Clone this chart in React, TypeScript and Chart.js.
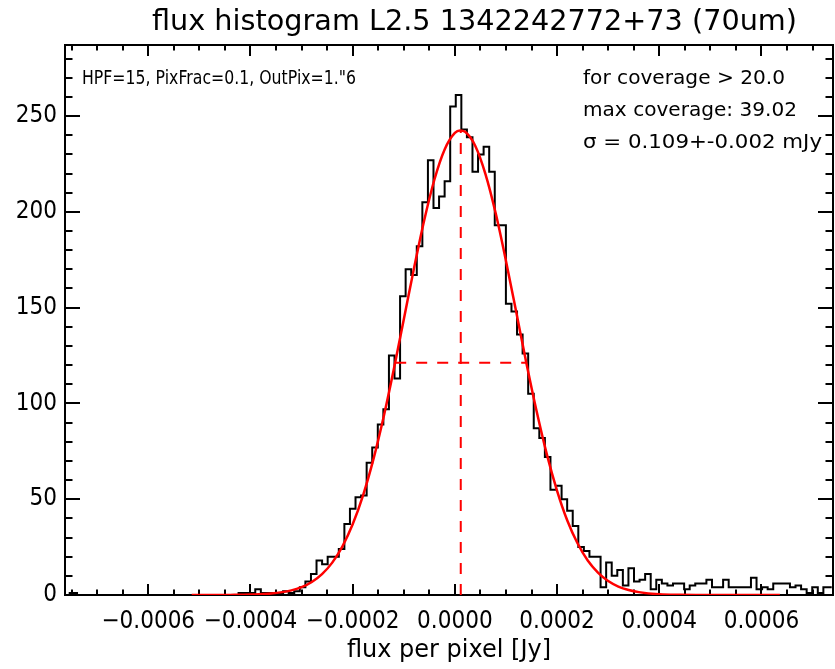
import React, { useEffect, useRef } from 'react';
import { Chart, registerables } from 'chart.js';

Chart.register(...registerables);

// ---- text ----
const TITLE = 'flux histogram L2.5 1342242772+73 (70um)';
const X_TITLE = 'flux per pixel [Jy]';
const NOTE_LEFT = 'HPF=15, PixFrac=0.1, OutPix=1."6';
const NOTES_RIGHT = ['for coverage > 20.0', 'max coverage: 39.02', 'σ = 0.109+-0.002 mJy'];

// ---- axes ----
const X_MIN = -0.000763;
const X_MAX = 0.00074;
const Y_MIN = 0;
const Y_MAX = 287.1;
const X_TICKS = [-0.0006, -0.0004, -0.0002, 0, 0.0002, 0.0004, 0.0006];
const X_TICK_LABELS = ['−0.0006', '−0.0004', '−0.0002', '0.0000', '0.0002', '0.0004', '0.0006'];
const X_MINOR_STEP = 0.00005;
const Y_TICKS = [0, 50, 100, 150, 200, 250];
const Y_TICK_LABELS = ['0', '50', '100', '150', '200', '250'];
const Y_MINOR_STEP = 10;

// ---- histogram (bin centres start + width, counts per bin) ----
const BIN_FIRST_CENTER = -0.0007558;
const BIN_WIDTH = 0.0000109;
const COUNTS = [
  1, 1, 0, 0, 0, 0, 0, 0, 0, 0,
  0, 0, 0, 0, 0, 0, 0, 0, 0, 0,
  0, 0, 0, 0, 0, 0, 0, 0, 0, 0,
  0, 1, 1, 1, 3, 1, 1, 1, 1, 2,
  1, 2, 4, 7, 11, 18, 16, 20, 20, 24,
  37, 45, 51, 52, 69, 77, 89, 97, 125, 113,
  156, 170, 167, 182, 205, 227, 202, 208, 216, 255,
  261, 243, 239, 221, 230, 234, 221, 193, 193, 152,
  148, 136, 126, 105, 87, 82, 72, 55, 57, 50,
  44, 36, 25, 23, 20, 20, 4, 17, 10, 13,
  5, 14, 7, 8, 11, 3, 8, 6, 5, 6,
  6, 3, 5, 6, 6, 8, 4, 4, 8, 4,
  4, 4, 4, 9, 3, 4, 3, 6, 6, 6,
  4, 5, 3, 1, 4, 1, 4, 4,
];

// ---- gaussian fit curve ----
const FIT_X = [
  -0.000515, -0.00048, -0.00044, -0.0004, -0.00036, -0.00032, -0.0003, -0.00028,
  -0.00026, -0.00024, -0.00022, -0.0002, -0.00018, -0.00016, -0.00014, -0.00012,
  -0.0001, -0.00008, -0.00006, -0.00004, -0.00002, 0, 0.00001, 0.00002, 0.00004,
  0.00006, 0.00008, 0.0001, 0.00012, 0.00014, 0.00016, 0.00018, 0.0002, 0.00022,
  0.00024, 0.00026, 0.00028, 0.0003, 0.00032, 0.00034, 0.00036, 0.0004, 0.00044,
  0.00048, 0.00052, 0.00056, 0.0006, 0.000636,
];
const FIT_Y = [
  0, 0.01, 0.05, 0.2, 0.73, 2.4, 4.1, 6.8,
  10.9, 16.9, 25.4, 36.9, 51.8, 70.3, 92.3, 117.2,
  143.8, 170.5, 195.6, 216.9, 232.6, 241.2, 242.5, 241.8, 234.4,
  219.6, 199.1, 174.4, 147.8, 121.0, 95.9, 73.4, 54.4, 38.9,
  27.0, 18.0, 11.7, 7.3, 4.4, 2.6, 1.5, 0.4, 0.1,
  0.02, 0, 0, 0, 0,
];

// ---- fit markers ----
const FIT_MEAN = 0.0000115;
const FIT_PEAK = 242.5;
const HALF_MAX = 121.2;
const HALF_LEFT = -0.0001168;
const HALF_RIGHT = 0.0001398;

const RED = 'rgb(255,0,0)';
const FONT = "'DejaVu Sans', sans-serif";
const COND_FONT = "'DejaVu Sans Condensed', 'DejaVu Sans', sans-serif";

function fillFitted(ctx: CanvasRenderingContext2D, text: string, x: number, y: number, width: number) {
  const w = ctx.measureText(text).width;
  ctx.save();
  ctx.translate(x, y);
  ctx.scale(width / w, 1);
  ctx.fillText(text, 0, 0);
  ctx.restore();
}

const idlFrame = {
  id: 'idlFrame',
  beforeDatasetsDraw(chart: any) {
    const { ctx, chartArea: a, scales } = chart;
    const xs = scales.x;
    const ys = scales.y;
    ctx.save();
    ctx.strokeStyle = '#000';
    ctx.lineWidth = 2;
    ctx.beginPath();
    const i0 = Math.ceil(X_MIN / X_MINOR_STEP - 1e-9);
    const i1 = Math.floor(X_MAX / X_MINOR_STEP + 1e-9);
    for (let i = i0; i <= i1; i++) {
      const px = Math.round(xs.getPixelForValue(i * X_MINOR_STEP));
      const len = i % 4 === 0 ? 11 : 5.5;
      ctx.moveTo(px, a.bottom);
      ctx.lineTo(px, a.bottom - len);
      ctx.moveTo(px, a.top);
      ctx.lineTo(px, a.top + len);
    }
    const j1 = Math.floor(Y_MAX / Y_MINOR_STEP);
    for (let j = 0; j <= j1; j++) {
      const py = Math.round(ys.getPixelForValue(j * Y_MINOR_STEP));
      const len = j % 5 === 0 ? 15 : 7.5;
      ctx.moveTo(a.left, py);
      ctx.lineTo(a.left + len, py);
      ctx.moveTo(a.right, py);
      ctx.lineTo(a.right - len, py);
    }
    ctx.stroke();
    ctx.strokeRect(a.left, a.top, a.right - a.left, a.bottom - a.top);
    ctx.restore();
  },
  afterDraw(chart: any) {
    const { ctx, chartArea: a } = chart;
    ctx.save();
    ctx.fillStyle = '#000';
    ctx.textBaseline = 'alphabetic';
    ctx.textAlign = 'left';
    ctx.font = `29px ${FONT}`;
    fillFitted(ctx, TITLE, 152, 30, 645);
    ctx.font = `20px ${FONT}`;
    fillFitted(ctx, NOTE_LEFT, a.left + 17, 84, 274);
    fillFitted(ctx, NOTES_RIGHT[0], 583, 84, 202);
    fillFitted(ctx, NOTES_RIGHT[1], 583, 116, 214);
    fillFitted(ctx, NOTES_RIGHT[2], 583, 148, 239);
    ctx.restore();
  },
};

export default function App() {
  const ref = useRef<HTMLCanvasElement | null>(null);
  useEffect(() => {
    const canvas = ref.current;
    if (!canvas) return;
    const hist = COUNTS.map((c, i) => ({ x: BIN_FIRST_CENTER + i * BIN_WIDTH, y: c }));
    const fit = FIT_X.map((x, i) => ({ x, y: FIT_Y[i] }));
    const chart = new Chart(canvas, {
      type: 'scatter',
      data: {
        datasets: [
          {
            label: 'histogram',
            data: hist,
            showLine: true,
            stepped: 'middle',
            borderColor: '#000',
            borderWidth: 2,
            pointRadius: 0,
            fill: false,
            order: 3,
          } as any,
          {
            label: 'fit',
            data: fit,
            showLine: true,
            borderColor: RED,
            borderWidth: 2.5,
            pointRadius: 0,
            cubicInterpolationMode: 'monotone',
            fill: false,
            order: 1,
          } as any,
          {
            label: 'centre',
            data: [{ x: FIT_MEAN, y: 0 }, { x: FIT_MEAN, y: FIT_PEAK }],
            showLine: true,
            borderColor: RED,
            borderWidth: 2,
            borderDash: [11, 10],
            pointRadius: 0,
            order: 2,
          } as any,
          {
            label: 'fwhm',
            data: [{ x: HALF_LEFT, y: HALF_MAX }, { x: HALF_RIGHT, y: HALF_MAX }],
            showLine: true,
            borderColor: RED,
            borderWidth: 2,
            borderDash: [11, 10],
            pointRadius: 0,
            order: 2,
          } as any,
        ],
      },
      options: {
        animation: false,
        responsive: false,
        devicePixelRatio: 1,
        layout: { padding: { top: 45, right: 2, left: 0, bottom: 0 } },
        plugins: { legend: { display: false }, tooltip: { enabled: false }, title: { display: false } },
        scales: {
          x: {
            type: 'linear',
            min: X_MIN,
            max: X_MAX,
            grid: { display: false, drawTicks: false },
            border: { display: false },
            afterBuildTicks: (s: any) => {
              s.ticks = X_TICKS.map((v) => ({ value: v }));
            },
            afterFit: (s: any) => {
              s.height = 74;
            },
            ticks: {
              autoSkip: false,
              maxRotation: 0,
              padding: 12,
              color: '#000',
              font: { family: COND_FONT, size: 24 },
              callback: (v: any) => {
                const i = X_TICKS.findIndex((t) => Math.abs(t - Number(v)) < 1e-9);
                return i >= 0 ? X_TICK_LABELS[i] : '';
              },
            },
            title: {
              display: true,
              text: X_TITLE,
              color: '#000',
              font: { family: FONT, size: 24 },
              padding: { top: 0, bottom: 4 },
            },
          },
          y: {
            type: 'linear',
            min: Y_MIN,
            max: Y_MAX,
            grid: { display: false, drawTicks: false },
            border: { display: false },
            afterBuildTicks: (s: any) => {
              s.ticks = Y_TICKS.map((v) => ({ value: v }));
            },
            afterFit: (s: any) => {
              s.width = 65;
            },
            ticks: {
              autoSkip: false,
              padding: 8,
              color: '#000',
              font: { family: COND_FONT, size: 24 },
              callback: (v: any) => {
                const i = Y_TICKS.indexOf(Number(v));
                return i >= 0 ? Y_TICK_LABELS[i] : '';
              },
            },
          },
        },
      },
      plugins: [idlFrame],
    });
    return () => chart.destroy();
  }, []);
  return (
    <div style={{ position: 'absolute', left: 0, top: 0, width: 835, height: 669, background: '#fff' }}>
      <canvas ref={ref} width={835} height={669} style={{ display: 'block', width: 835, height: 669 }} />
    </div>
  );
}
